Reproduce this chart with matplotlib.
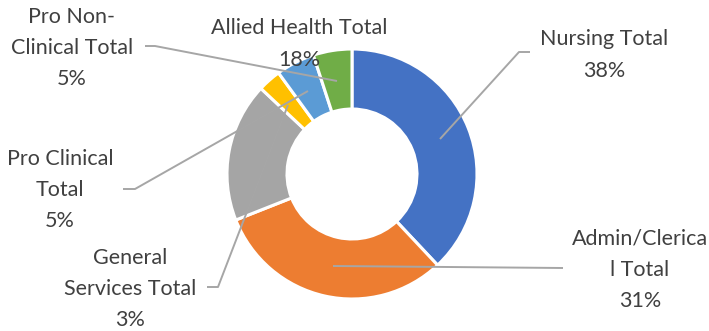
import matplotlib
matplotlib.use('Agg')
import matplotlib.pyplot as plt

# staff mix, clockwise from 12 o'clock
categories = ['Nursing Total', 'Admin/Clerical Total', 'Allied Health Total',
              'General Services Total', 'Pro Clinical Total', 'Pro Non-Clinical Total']
shares = [38, 31, 18, 3, 5, 5]
colors = ['#4472C4', '#ED7D31', '#A5A5A5', '#FFC000', '#5B9BD5', '#70AD47']

# label text (wrapped as in the chart), label centre and leader path in pixel coords
label_text = {
    'Nursing Total': 'Nursing Total',
    'Admin/Clerical Total': 'Admin/Clerica\nl Total',
    'Allied Health Total': 'Allied Health Total',
    'General Services Total': 'General\nServices Total',
    'Pro Clinical Total': 'Pro Clinical\nTotal',
    'Pro Non-Clinical Total': 'Pro Non-\nClinical Total',
}
label_pos = {
    'Nursing Total': (604, 55),
    'Admin/Clerical Total': (640, 270),
    'Allied Health Total': (299, 44),
    'General Services Total': (130, 289),
    'Pro Clinical Total': (60, 190),
    'Pro Non-Clinical Total': (72, 48),
}
leaders = {
    'Nursing Total': [(530, 52), (519, 52), (440, 139)],
    'Admin/Clerical Total': [(563, 268), (333, 266)],
    'General Services Total': [(207, 287), (218, 287), (288, 105)],
    'Pro Clinical Total': [(123, 189), (135, 189), (308, 91)],
    'Pro Non-Clinical Total': [(145, 46), (155, 46), (337, 81)],
}

W, H = 709, 331
cx, cy = 352, 174
r_out, r_in = 125, 65


def fy(y):
    # pixel row -> data y (axes run bottom-up)
    return H - y


fig = plt.figure(figsize=(W / 100, H / 100), dpi=100)
ax = fig.add_axes([0, 0, 1, 1])

ax.pie(shares, colors=colors, startangle=90, counterclock=False,
       radius=r_out, center=(cx, fy(cy)),
       wedgeprops=dict(width=r_out - r_in, edgecolor='white', linewidth=2.2))

ax.set_xlim(0, W)
ax.set_ylim(0, H)
ax.set_aspect('auto')
ax.axis('off')

for name, pts in leaders.items():
    xs = [p[0] for p in pts]
    ys = [fy(p[1]) for p in pts]
    ax.plot(xs, ys, color='#A6A6A6', lw=1.4, solid_capstyle='butt', zorder=5)

for name, val in zip(categories, shares):
    x, y = label_pos[name]
    ax.text(x, fy(y), f'{label_text[name]}\n{val}%', ha='center', va='center',
            fontsize=15.5, family='Lato', color='#404040', linespacing=1.7, zorder=6)

fig.savefig('out.png', dpi=100)
